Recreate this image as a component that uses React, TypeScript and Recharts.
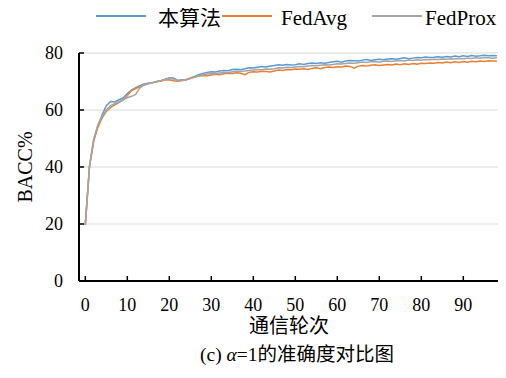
import { CartesianGrid, Line, LineChart, XAxis, YAxis } from "recharts"

// communication rounds 0..98
const rounds = Array.from({ length: 99 }, (_, i) => i)

const ours = [
  19.7, 40.3, 49.5, 54.5, 58.3, 61.5, 63.0, 62.8, 63.6, 64.2,
  65.8, 67.0, 67.8, 68.5, 69.1, 69.4, 69.6, 70.0, 70.3, 70.8,
  71.3, 71.2, 70.4, 70.5, 70.6, 71.2, 71.8, 72.4, 72.8, 73.2,
  73.4, 73.3, 73.7, 73.9, 73.8, 74.2, 74.3, 74.1, 74.5, 74.8,
  74.7, 75.0, 75.3, 75.1, 75.4, 75.6, 75.9, 75.7, 76.0, 75.8,
  75.9, 76.2, 76.0, 76.3, 76.5, 76.3, 76.6, 76.4, 76.7, 76.9,
  77.1, 76.8, 77.2, 77.4, 77.3, 77.2, 77.5, 77.7, 77.4, 77.6,
  77.8, 77.6, 77.9, 78.0, 77.8, 78.1, 78.3, 78.0, 78.2, 78.4,
  78.3, 78.6, 78.4, 78.5, 78.7, 78.5, 78.8, 78.6, 78.9, 78.7,
  79.0, 78.8, 79.1, 78.9, 79.0, 79.2, 79.0, 79.1, 79.0,
]

const fedAvg = [
  19.8, 40.0, 49.0, 54.0, 57.2, 59.5, 60.8, 61.8, 62.6, 63.5,
  65.0, 66.8, 67.5, 68.2, 68.8, 69.3, 69.6, 69.9, 70.2, 70.5,
  70.6, 70.3, 70.1, 70.4, 70.6, 71.0, 71.5, 71.9, 72.1, 72.0,
  72.3, 72.5, 72.4, 72.7, 72.9, 72.8, 73.1, 72.9, 72.4, 73.2,
  73.4, 73.3, 73.6, 73.5, 73.3, 73.7, 74.0, 73.9, 74.2, 74.1,
  74.4, 74.3, 74.5, 74.2, 74.6, 74.8, 74.5, 74.9, 75.1, 74.9,
  75.2, 75.1, 75.4, 75.3, 74.7, 75.4, 75.6, 75.4, 75.7, 75.9,
  75.6, 75.8, 76.0, 75.8, 76.1, 75.9, 76.2, 76.0, 76.3, 76.1,
  76.4, 76.3, 76.5, 76.4, 76.7, 76.5, 76.8, 76.6, 76.9, 76.7,
  77.0, 76.8, 77.1, 76.9, 77.2, 77.0, 77.3, 77.2, 77.1,
]

const fedProx = [
  19.6, 40.5, 49.8, 54.8, 57.8, 60.0, 61.5, 62.2, 62.9, 63.6,
  64.3, 64.8, 65.5, 67.8, 68.8, 69.2, 69.6, 70.0, 70.3, 70.7,
  71.1, 70.9, 70.2, 70.3, 70.7, 71.2, 71.6, 72.0, 72.3, 72.6,
  72.8, 72.7, 73.0, 73.2, 73.1, 73.4, 73.6, 73.5, 73.7, 73.9,
  74.0, 74.2, 74.1, 74.4, 74.3, 74.5, 74.8, 74.7, 75.0, 74.9,
  75.1, 75.3, 75.2, 75.4, 75.6, 75.5, 75.7, 75.9, 75.8, 76.0,
  76.2, 76.1, 76.3, 76.5, 76.4, 76.6, 76.8, 76.7, 76.9, 77.0,
  76.8, 77.1, 77.2, 77.0, 77.3, 77.4, 77.2, 77.5, 77.4, 77.6,
  77.5, 77.7, 77.6, 77.8, 77.7, 77.9, 77.8, 78.0, 77.9, 78.1,
  78.0, 78.2, 78.1, 78.3, 78.2, 78.4, 78.3, 78.2, 78.3,
]

const xTicks = [0, 10, 20, 30, 40, 50, 60, 70, 80, 90]
const yTicks = [0, 20, 40, 60, 80]

const data = rounds.map((r, i) => ({
  round: r,
  ours: ours[i],
  fedAvg: fedAvg[i],
  fedProx: fedProx[i],
}))

const serif = "'Liberation Serif', 'Noto Sans CJK SC', serif"

const legendItems = [
  { name: "本算法", color: "#5b9bd5", line: 96, text: 158 },
  { name: "FedAvg", color: "#ed7d31", line: 222, text: 281 },
  { name: "FedProx", color: "#a5a5a5", line: 372, text: 425 },
]

function Legend() {
  return (
    <>
      {legendItems.map((it) => (
        <div key={it.name}>
          <div
            style={{
              position: "absolute",
              left: it.line,
              top: 15,
              width: 50,
              height: 2,
              background: it.color,
            }}
          />
          <div
            style={{
              position: "absolute",
              left: it.text,
              top: 5,
              fontSize: 21,
              lineHeight: "26px",
              color: "#000",
              whiteSpace: "nowrap",
            }}
          >
            {it.name}
          </div>
        </div>
      ))}
    </>
  )
}

function XTick({ x, y, payload }: any) {
  return (
    <text x={x} y={y} dy="0.71em" textAnchor="middle" fontFamily={serif} fontSize={18} fill="#000">
      {payload.value}
    </text>
  )
}

function YTick({ x, y, payload }: any) {
  return (
    <text x={x} y={y} dy="0.355em" textAnchor="end" fontFamily={serif} fontSize={18} fill="#000">
      {payload.value}
    </text>
  )
}

export default function App() {
  return (
    <div
      style={{
        position: "relative",
        width: 506,
        height: 378,
        background: "#fff",
        margin: -8,
        fontFamily: serif,
      }}
    >
      <Legend />
      <LineChart
        width={506}
        height={378}
        data={data}
        margin={{ top: 53, right: 7, bottom: 0, left: 0 }}
      >
        <CartesianGrid vertical={false} stroke="#d9d9d9" strokeWidth={1} />
        <XAxis
          dataKey="round"
          type="number"
          domain={[-1.5, 98.5]}
          ticks={xTicks}
          allowDataOverflow
          height={97}
          tickSize={-5}
          tickMargin={22}
          axisLine={{ stroke: "#000", strokeWidth: 2 }}
          tickLine={{ stroke: "#000", strokeWidth: 1.5 }}
          tick={<XTick />}
          label={({ viewBox }: any) => {
            const cx = viewBox.x + viewBox.width / 2
            return (
              <g>
                <text x={cx} y={viewBox.y + 52} textAnchor="middle" fontFamily={serif} fontSize={20} fill="#000">
                  通信轮次
                </text>
                <text x={cx + 8} y={viewBox.y + 80} textAnchor="middle" fontFamily={serif} fontSize={19.5} fill="#000">
                  (c) <tspan fontStyle="italic">α</tspan>=1的准确度对比图
                </text>
              </g>
            )
          }}
        />
        <XAxis xAxisId="top" orientation="top" height={0} tick={false} tickLine={false} axisLine={{ stroke: "#000", strokeWidth: 2 }} />
        <YAxis
          domain={[0, 80]}
          ticks={yTicks}
          width={79}
          tickSize={-5}
          tickMargin={21}
          axisLine={{ stroke: "#000", strokeWidth: 2 }}
          tickLine={{ stroke: "#000", strokeWidth: 1.5 }}
          tick={<YTick />}
          label={({ viewBox }: any) => {
            const cy = viewBox.y + viewBox.height / 2
            return (
              <text x={25} y={cy} transform={`rotate(-90 25 ${cy})`} textAnchor="middle" dominantBaseline="central" fontFamily={serif} fontSize={20} fill="#000">
                BACC%
              </text>
            )
          }}
        />
        <YAxis yAxisId="right" orientation="right" width={0} tick={false} tickLine={false} axisLine={{ stroke: "#000", strokeWidth: 2 }} />
        <Line dataKey="ours" stroke="#5b9bd5" strokeWidth={1.5} dot={false} isAnimationActive={false} />
        <Line dataKey="fedAvg" stroke="#ed7d31" strokeWidth={1.5} dot={false} isAnimationActive={false} />
        <Line dataKey="fedProx" stroke="#a5a5a5" strokeWidth={1.5} dot={false} isAnimationActive={false} />
      </LineChart>
    </div>
  )
}
